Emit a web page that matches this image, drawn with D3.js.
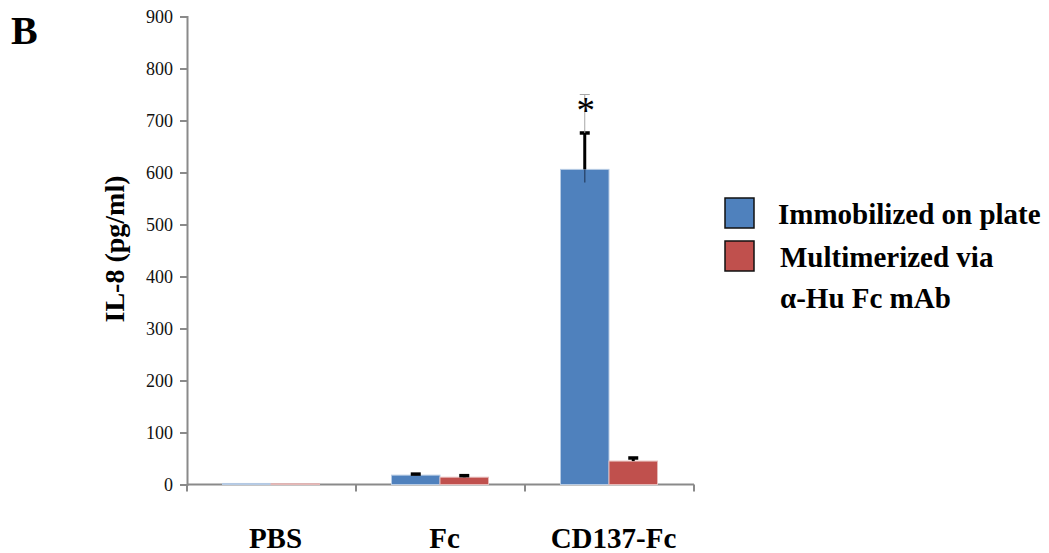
<!DOCTYPE html>
<html>
<head>
<meta charset="utf-8">
<script src="https://cdn.jsdelivr.net/npm/d3@7"></script>
<style>
  html, body { margin: 0; padding: 0; background: #fff; }
  svg { display: block; font-family: "Liberation Serif", "Times New Roman", serif; }
</style>
</head>
<body>
<svg id="chart" width="1049" height="553"></svg>
<script>
// IL-8 release by stimulation condition
const categories = ["PBS", "Fc", "CD137-Fc"];
const seriesNames = ["Immobilized on plate", "Multimerized via", "α-Hu Fc mAb"];
const immobilized = [2, 18, 606];
const immobilizedErr = [0, 2, 70];
const immobilizedLowErr = [0, 0, 25];
const multimerized = [1.5, 14, 45];
const multimerizedErr = [0, 3, 6];
const multimerizedLowErr = [0, 0, 0];
const yTicks = [0, 100, 200, 300, 400, 500, 600, 700, 800, 900];
const significance = [null, null, 750];

const blue = "#4F81BD", red = "#C0504D", axisGrey = "#8a8a8a";

const svg = d3.select("#chart");

const y = d3.scaleLinear().domain([0, 900]).range([484.5, 16.5]);
const x0 = d3.scaleBand().domain(categories).range([187, 694]);
const x1 = d3.scaleBand().domain([0, 1]).range([35.5, 132.5]);

// panel letter
svg.append("text").attr("x", 11).attr("y", 44)
  .attr("font-size", 40).attr("font-weight", "bold").text("B");

// y axis
const yAxis = svg.append("g").attr("transform", "translate(187,0)")
  .call(d3.axisLeft(y).tickValues(yTicks).tickSize(7).tickPadding(7));
yAxis.attr("font-family", null);
yAxis.select(".domain").attr("stroke", axisGrey).attr("stroke-width", 2);
yAxis.selectAll(".tick line").attr("stroke", axisGrey).attr("stroke-width", 2);
yAxis.selectAll(".tick text").attr("font-size", 18).attr("fill", "#111");

// y axis title
svg.append("text")
  .attr("transform", "translate(124,249) rotate(-90)")
  .attr("text-anchor", "middle").attr("font-size", 28).attr("font-weight", "bold")
  .text("IL-8 (pg/ml)");

// x axis baseline and category dividers
svg.append("line").attr("x1", 187).attr("x2", 694).attr("y1", y(0)).attr("y2", y(0))
  .attr("stroke", axisGrey).attr("stroke-width", 2);
const bounds = categories.map(c => x0(c)).concat([x0(categories[2]) + x0.bandwidth()]);
svg.selectAll("line.div").data(bounds).join("line").attr("class", "div")
  .attr("x1", d => d).attr("x2", d => d)
  .attr("y1", y(0)).attr("y2", y(0) + 7)
  .attr("stroke", axisGrey).attr("stroke-width", 2);

// category labels
svg.selectAll("text.cat").data(categories).join("text").attr("class", "cat")
  .attr("x", d => x0(d) + x0.bandwidth() / 2 + 4).attr("y", 548)
  .attr("text-anchor", "middle").attr("font-size", 29).attr("font-weight", "bold")
  .text(d => d);

// bars
const series = [
  { vals: immobilized, err: immobilizedErr, low: immobilizedLowErr, color: blue, edge: "#b7cbe4", lowColor: "#2c4a73" },
  { vals: multimerized, err: multimerizedErr, low: multimerizedLowErr, color: red, edge: "#e6b9b8", lowColor: "#6b2523" }
];
series.forEach((s, si) => {
  const g = svg.append("g");
  categories.forEach((c, ci) => {
    const bx = x0(c) + x1(si), bw = x1.bandwidth();
    g.append("rect").attr("x", bx).attr("y", y(s.vals[ci]))
      .attr("width", bw).attr("height", y(0) - y(s.vals[ci]))
      .attr("fill", s.color).attr("stroke", s.edge).attr("stroke-width", 1);
    const cx = bx + bw / 2;
    if (s.err[ci] > 0) {
      g.append("line").attr("x1", cx).attr("x2", cx)
        .attr("y1", y(s.vals[ci])).attr("y2", y(s.vals[ci] + s.err[ci]))
        .attr("stroke", "#000").attr("stroke-width", 3);
      g.append("line").attr("x1", cx - 5).attr("x2", cx + 5)
        .attr("y1", y(s.vals[ci] + s.err[ci])).attr("y2", y(s.vals[ci] + s.err[ci]))
        .attr("stroke", "#000").attr("stroke-width", 3.5);
    }
    if (s.low[ci] > 0) {
      g.append("line").attr("x1", cx).attr("x2", cx)
        .attr("y1", y(s.vals[ci])).attr("y2", y(s.vals[ci] - s.low[ci]))
        .attr("stroke", s.lowColor).attr("stroke-width", 1.5);
    }
    // significance marker
    if (si === 0 && significance[ci] != null) {
      const top = y(significance[ci]);
      g.append("line").attr("x1", cx).attr("x2", cx)
        .attr("y1", top).attr("y2", y(s.vals[ci] + s.err[ci]))
        .attr("stroke", "#a6a6a6").attr("stroke-width", 1);
      g.append("line").attr("x1", cx - 5).attr("x2", cx + 5)
        .attr("y1", top).attr("y2", top)
        .attr("stroke", "#a6a6a6").attr("stroke-width", 1);
      g.append("text").attr("x", cx + 1).attr("y", top + 28)
        .attr("text-anchor", "middle").attr("font-size", 37).text("*");
    }
  });
});

// legend
const legend = svg.append("g");
legend.append("rect").attr("x", 725).attr("y", 198).attr("width", 29).attr("height", 30)
  .attr("fill", blue).attr("stroke", "#111").attr("stroke-width", 1.5);
legend.append("rect").attr("x", 725).attr("y", 241).attr("width", 29).attr("height", 30)
  .attr("fill", red).attr("stroke", "#111").attr("stroke-width", 1.5);
legend.append("text").attr("x", 778).attr("y", 224)
  .attr("font-size", 29).attr("font-weight", "bold").text(seriesNames[0]);
legend.append("text").attr("x", 780).attr("y", 267)
  .attr("font-size", 29).attr("font-weight", "bold").text(seriesNames[1]);
legend.append("text").attr("x", 780).attr("y", 308)
  .attr("font-size", 29).attr("font-weight", "bold").text(seriesNames[2]);
</script>
</body>
</html>
